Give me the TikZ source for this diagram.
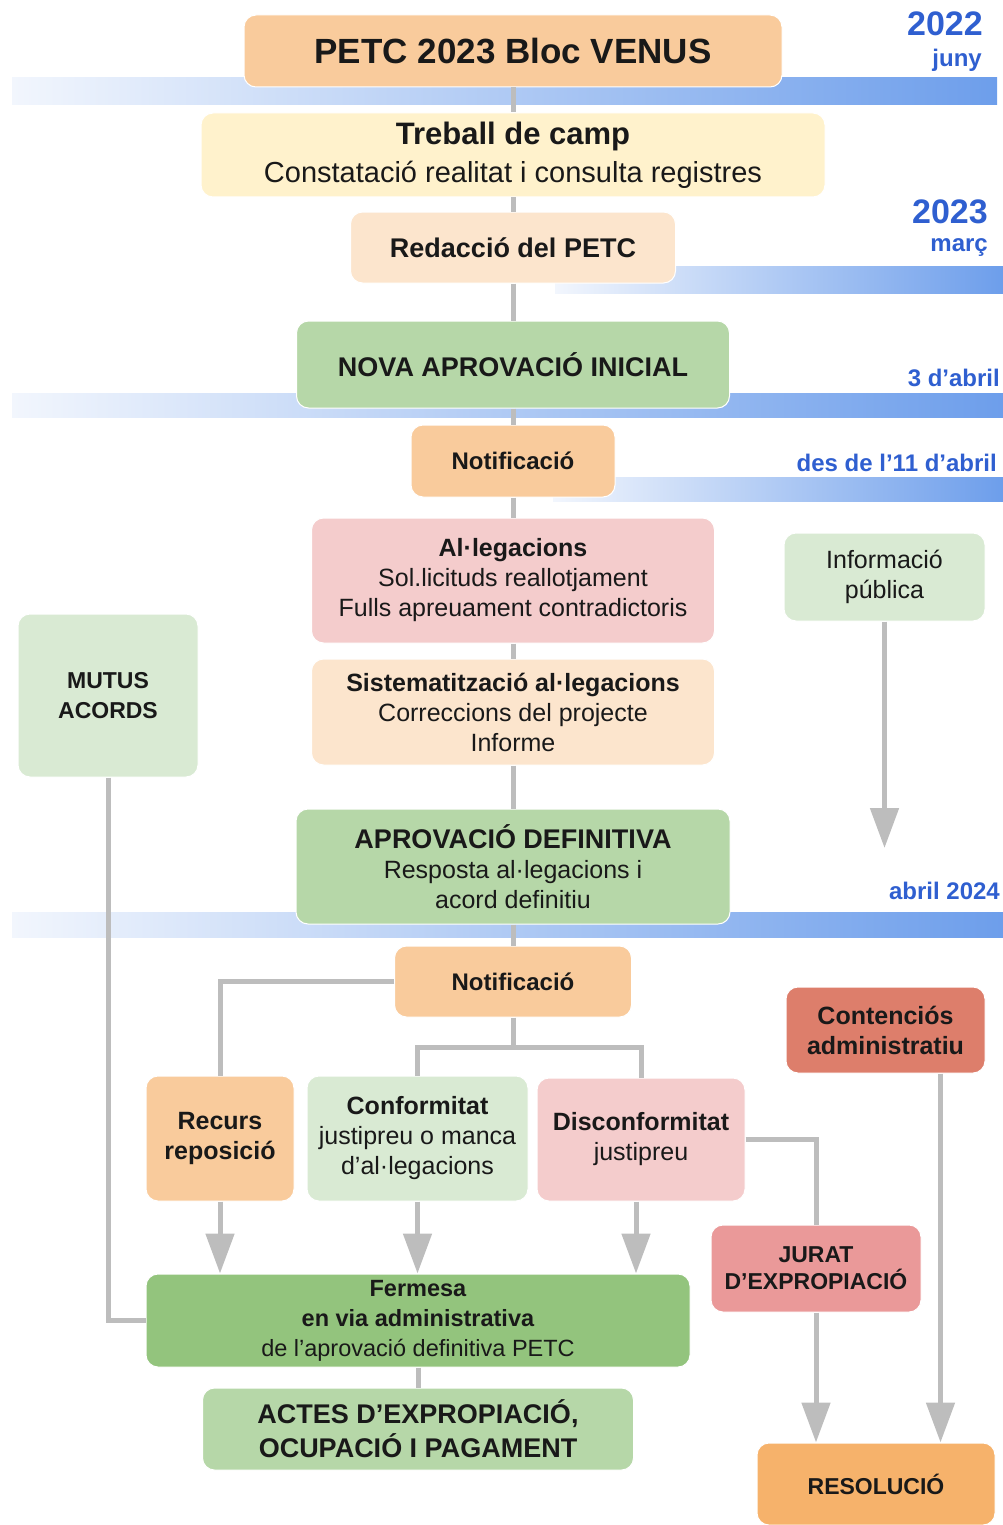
\documentclass[tikz,border=0pt]{standalone}
\usepackage{fontspec}
\setmainfont{Liberation Sans}
\usetikzlibrary{arrows.meta}

\definecolor{cPeach}{HTML}{F9CB9C}
\definecolor{cYellow}{HTML}{FFF2CC}
\definecolor{cCream}{HTML}{FCE5CD}
\definecolor{cGreen}{HTML}{B6D7A8}
\definecolor{cPale}{HTML}{D9EAD3}
\definecolor{cPink}{HTML}{F4CCCC}
\definecolor{cRed}{HTML}{DD7E6B}
\definecolor{cRose}{HTML}{EA9999}
\definecolor{cDark}{HTML}{93C47D}
\definecolor{cOrange}{HTML}{F6B26B}
\definecolor{linkgray}{HTML}{BDBDBD}
\definecolor{bandpale}{HTML}{F2F6FD}
\definecolor{bandblue}{HTML}{6D9EEB}
\definecolor{dateblue}{HTML}{2F5FD0}

\begin{document}
\begin{tikzpicture}[x=1pt, y=-1pt, >={Triangle[width=28pt,length=40pt]},
    box/.style={rounded corners=12pt, draw=white, line width=1pt, align=center, inner sep=0pt, text=black!90},
    link/.style={draw=linkgray, line width=5pt},
    band/.style={left color=bandpale, right color=bandblue},
    date/.style={anchor=east, inner sep=0pt, text=dateblue, font=\fontsize{24}{28}\selectfont\bfseries},
    big/.style={font=\fontsize{27}{33}\selectfont\bfseries},
    small/.style={font=\fontsize{25}{30}\selectfont}]

    \useasboundingbox (0,0) rectangle (1003,1525);

    % 1. Timeline bands
    \shade[band] (12,78) rectangle (997,105);
    \shade[band] (555,266) rectangle (1003,293);
    \shade[band] (12,393) rectangle (1003,417);
    \shade[band] (553,477) rectangle (1003,501);
    \shade[band] (12,912) rectangle (1003,937);

    % 2. Dates
    \node[date, font=\fontsize{34}{38}\selectfont\bfseries] (y2022) at (983,24) {2022};
    \node[date] (juny) at (982,60) {juny};
    \node[date, font=\fontsize{34}{38}\selectfont\bfseries] (y2023) at (988,212) {2023};
    \node[date] (marc) at (988,248) {març};
    \node[date] (abril3) at (1000,378) {3 d’abril};
    \node[date] (abril11) at (997,463) {des de l’11 d’abril};
    \node[date] (abril24) at (1000,891) {abril 2024};

    % 3. Main column
    \node[box, fill=cPeach, minimum width=538pt, minimum height=72pt,
          font=\fontsize{35}{40}\selectfont\bfseries] (title) at (513,51) {PETC 2023 Bloc VENUS};
    \node[box, fill=cYellow, minimum width=624pt, minimum height=84pt,
          font=\fontsize{29}{38}\selectfont] (treball) at (513,155)
          {{\fontsize{31}{38}\selectfont\bfseries Treball de camp}\\Constatació realitat i consulta registres};
    \node[box, big, fill=cCream, minimum width=325pt, minimum height=71pt] (redac) at (513,247.5) {Redacció del PETC};
    \node[box, big, fill=cGreen, minimum width=433pt, minimum height=87pt] (nova) at (513,364.5) {NOVA APROVACIÓ INICIAL};
    \node[box, fill=cPeach, minimum width=204pt, minimum height=72pt,
          font=\fontsize{24}{28}\selectfont\bfseries] (notif1) at (513,461) {Notificació};
    \node[box, small, fill=cPink, minimum width=403pt, minimum height=125pt] (alleg) at (513,580.5)
          {\textbf{Al·legacions}\\Sol.licituds reallotjament\\Fulls apreuament contradictoris};
    \node[box, small, fill=cCream, minimum width=403pt, minimum height=106pt] (sistem) at (513,712)
          {\textbf{Sistematització al·legacions}\\Correccions del projecte\\Informe};
    \node[box, small, fill=cGreen, minimum width=434pt, minimum height=115pt] (aprov) at (513,866.5)
          {{\fontsize{27}{32}\selectfont\bfseries APROVACIÓ DEFINITIVA}\\Resposta al·legacions i\\acord definitiu};
    \node[box, fill=cPeach, minimum width=237pt, minimum height=71pt,
          font=\fontsize{24}{28}\selectfont\bfseries] (notif2) at (513,981.5) {Notificació};

    % 4. Side boxes
    \node[box, small, fill=cPale, minimum width=201pt, minimum height=88pt] (info) at (884.5,577) {Informació\\pública};
    \node[box, fill=cPale, minimum width=180pt, minimum height=163pt,
          font=\fontsize{23}{30}\selectfont\bfseries] (mutus) at (108,695.5) {MUTUS\\ACORDS};
    \node[box, small, fill=cRed, minimum width=199pt, minimum height=86pt] (cont) at (885.5,1030)
          {\textbf{Contenciós}\\\textbf{administratiu}};

    % 5. Outcomes
    \node[box, small, fill=cPeach, minimum width=148pt, minimum height=125pt] (recurs) at (220,1138.5)
          {\textbf{Recurs}\\\textbf{reposició}};
    \node[box, small, fill=cPale, minimum width=221pt, minimum height=125pt] (conform) at (417.5,1138.5)
          {\textbf{Conformitat}\\justipreu o manca\\d’al·legacions};
    \node[box, small, fill=cPink, minimum width=208pt, minimum height=123pt] (disconf) at (641,1139.5)
          {\textbf{Disconformitat}\\justipreu};
    \node[box, fill=cRose, minimum width=210pt, minimum height=87pt,
          font=\fontsize{23}{27}\selectfont\bfseries] (jurat) at (816,1268.5) {JURAT\\D’EXPROPIACIÓ};
    \node[box, fill=cDark, minimum width=544pt, minimum height=93pt,
          font=\fontsize{23.5}{30}\selectfont] (ferm) at (418,1320.5)
          {\textbf{Fermesa}\\\textbf{en via administrativa}\\de l’aprovació definitiva PETC};
    \node[box, fill=cGreen, minimum width=431pt, minimum height=82pt,
          font=\fontsize{27}{34}\selectfont\bfseries] (actes) at (418,1429) {ACTES D’EXPROPIACIÓ,\\OCUPACIÓ I PAGAMENT};
    \node[box, fill=cOrange, minimum width=238pt, minimum height=82pt,
          font=\fontsize{23}{27}\selectfont\bfseries] (resol) at (876,1484) {RESOLUCIÓ};

    % 6. Connectors
    \draw[link] (title) -- (treball);
    \draw[link] (treball) -- (redac);
    \draw[link] (redac) -- (nova);
    \draw[link] (nova) -- (notif1);
    \draw[link] (notif1) -- (alleg);
    \draw[link] (alleg) -- (sistem);
    \draw[link] (sistem) -- (aprov);
    \draw[link] (aprov) -- (notif2);

    \coordinate (split) at (513,1047);
    \coordinate (infoend) at (884.5,848);
    \draw[link, ->] (info) -- (infoend);
    \draw[link] (notif2.west) -| (recurs.north);
    \draw[link] (notif2) -- (split);
    \draw[link] (conform.north) |- (split) -| (disconf.north);
    \draw[link] (disconf.east) -| (jurat.north);
    \draw[link] (mutus.south) |- (ferm.west);

    \draw[link, ->] (recurs.south) -- (recurs.south |- ferm.north);
    \draw[link, ->] (conform.south) -- (conform.south |- ferm.north);
    \draw[link, ->] ([xshift=-5pt]disconf.south) -- ([xshift=-5pt]disconf.south |- ferm.north);
    \draw[link] (ferm) -- (actes);
    \draw[link, ->] (jurat.south) -- (jurat.south |- resol.north);
    \draw[link, ->] ([xshift=55pt]cont.south) -- ([xshift=55pt]cont.south |- resol.north);

\end{tikzpicture}
\end{document}
